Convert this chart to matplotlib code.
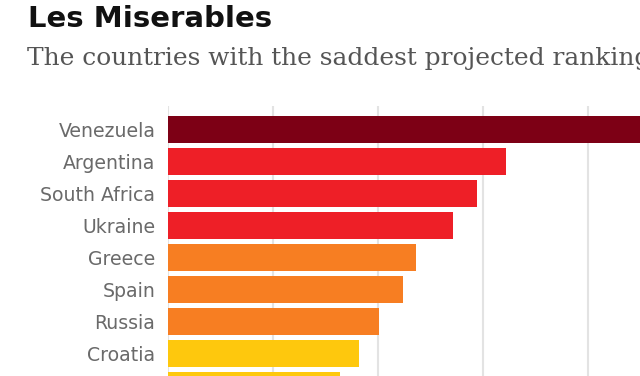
import matplotlib.pyplot as plt

countries = ['Venezuela', 'Argentina', 'South Africa', 'Ukraine', 'Greece',
             'Spain', 'Russia', 'Croatia', 'Brazil']
values = [60.0, 32.2, 29.4, 27.1, 23.6, 22.4, 20.1, 18.2, 16.4]
colors = ['#7d0015', '#ee1f27', '#ee1f27', '#ee1f27', '#f77e22',
          '#f77e22', '#f77e22', '#fec80d', '#fec80d']
grid_ticks = [0, 10, 20, 30, 40]

fig = plt.figure(figsize=(6.4, 3.76), dpi=100)
ax = fig.add_axes([168 / 640, 0, 1 - 168 / 640, 1 - 106 / 376])

y = list(range(len(countries)))
ax.barh(y, values, height=0.84, color=colors, zorder=2)

ax.set_xticks(grid_ticks)
ax.xaxis.grid(True, color='#e3e3e3', linewidth=1.5, zorder=0)
ax.tick_params(axis='x', length=0, labelbottom=False)
ax.set_yticks(y)
ax.set_yticklabels(countries, fontsize=13.6, color='#6a6a6a',
                   fontfamily='DejaVu Sans')
ax.tick_params(axis='y', length=0, pad=9)
# limites despues de los ticks (set_yticks los amplia)
ax.set_ylim(7.70, -0.734)
ax.set_xlim(0, 44.95)
for s in ax.spines.values():
    s.set_visible(False)

# titulo y subtitulo
fig.text(28 / 640, 1 - 27 / 376, 'Les Miserables', fontsize=21, fontweight='bold',
         fontfamily='DejaVu Sans', color='#111111', va='baseline', ha='left')
fig.text(27 / 640, 1 - 65 / 376, 'The countries with the saddest projected rankings',
         fontsize=17.9, fontfamily='DejaVu Serif', color='#555555',
         va='baseline', ha='left')

fig.savefig('out.png', dpi=100)
